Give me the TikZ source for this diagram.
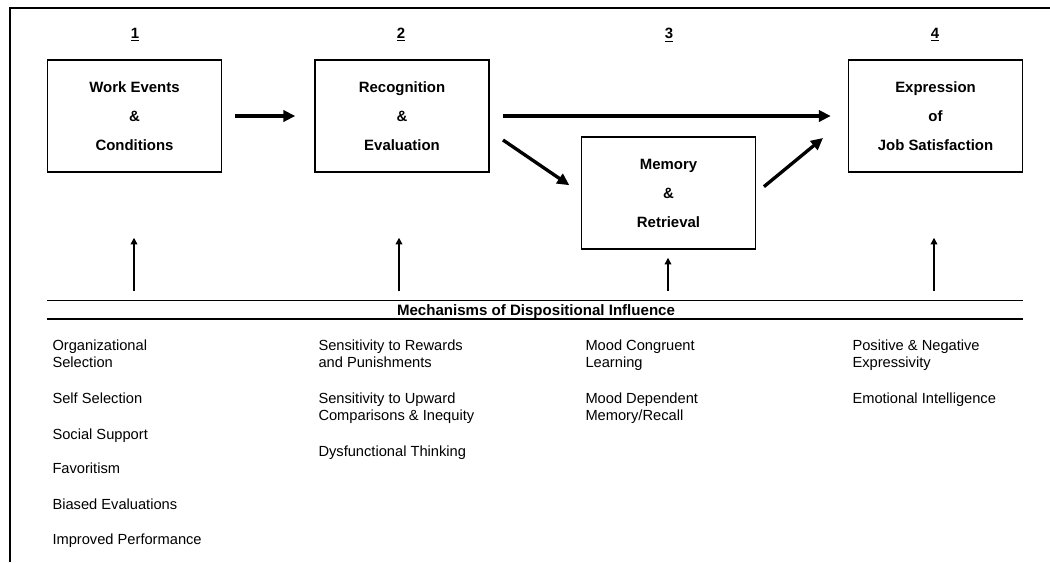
\documentclass[tikz,border=0pt]{standalone}
\usepackage{fontspec}
\setmainfont{Liberation Sans}
\usetikzlibrary{arrows.meta}

\tikzset{every picture/.style={line width=0.75pt}}

\begin{document}
\begin{tikzpicture}[x=0.75pt,y=0.75pt,yscale=-1,xscale=1,
  stage/.style={draw, line width=1.1pt, minimum width=130.5pt, minimum height=84pt, inner sep=0pt, align=center, font=\bfseries\fontsize{11.2}{21.75}\selectfont},
  stagenum/.style={font=\bfseries\fontsize{11.2}{13}\selectfont},
  flow/.style={line width=2.5pt, -{Triangle[length=9pt, width=8.5pt]}},
  feed/.style={line width=1pt, -{Triangle[length=5pt, width=5pt]}},
  mech/.style={anchor=base west, inner sep=0pt, align=left, font=\fontsize{11}{12.75}\selectfont}]
\useasboundingbox (0,0) rectangle (1050,562);

%Frame
\draw [line width=1.5pt]  (10,562) -- (10,8) -- (1050,8) ;

%Shape: Rectangle
\node (work) [stage] at (134.5,116) {Work Events\\\&\\Conditions};
%Shape: Rectangle
\node (recog) [stage] at (402,116) {Recognition\\\&\\Evaluation};
%Shape: Rectangle
\node (mem) [stage] at (668.5,193) {Memory\\\&\\Retrieval};
%Shape: Rectangle
\node (expr) [stage] at (935.5,116) {Expression\\of\\Job Satisfaction};

% Text Node
\node (n1) [stagenum] at (135,35) {\underline{1}};
\node (n2) [stagenum] at (401,35) {\underline{2}};
\node (n3) [stagenum] at (669,35) {\underline{3}};
\node (n4) [stagenum] at (935,35) {\underline{4}};

%Straight Lines
\draw [flow, shorten <=9.75pt, shorten >=14.25pt]  (work.east) -- (recog.west) ;
\draw [flow, shorten <=9.75pt, shorten >=12.75pt]  (recog.east) -- (expr.west) ;
\coordinate (r2m) at (503,140);
\draw [flow, shorten >=10.4pt]  (r2m) -- (mem.west) ;
\coordinate (m2e) at (823,138);
\draw [flow, shorten <=7.5pt]  (mem.east) -- (m2e) ;

%Straight Lines
\coordinate (f1) at (134,291);
\coordinate (f2) at (399,291);
\coordinate (f3) at (668,291);
\coordinate (f4) at (934,291);
\draw [feed, shorten >=48.75pt]  (f1) -- (f1 |- work.south) ;
\draw [feed, shorten >=48.75pt]  (f2) -- (f2 |- recog.south) ;
\draw [feed, shorten >=6pt]  (f3) -- (f3 |- mem.south) ;
\draw [feed, shorten >=48.75pt]  (f4) -- (f4 |- expr.south) ;

%Straight Lines
\draw  (work.west |- 0,300) -- (expr.east |- 0,300) ;
\draw [line width=1.8pt]  (work.west |- 0,319) -- (expr.east |- 0,319) ;
% Text Node
\node (mechs) [font=\bfseries\fontsize{11.3}{13}\selectfont] at (536,311.5) {Mechanisms of Dispositional Influence};

% Text Node
\node (c1a) [mech] at (52,367) {Organizational\\Selection};
\node (c1b) [mech] at (52,403) {Self Selection};
\node (c1c) [mech] at (52,439) {Social Support};
\node (c1d) [mech] at (52,473) {Favoritism};
\node (c1e) [mech] at (52,509) {Biased Evaluations};
\node (c1f) [mech] at (52,544) {Improved Performance};
% Text Node
\node (c2a) [mech] at (318,367) {Sensitivity to Rewards\\and Punishments};
\node (c2b) [mech] at (318,420) {Sensitivity to Upward\\Comparisons \& Inequity};
\node (c2c) [mech] at (318,456) {Dysfunctional Thinking};
% Text Node
\node (c3a) [mech] at (585,367) {Mood Congruent\\Learning};
\node (c3b) [mech] at (585,420) {Mood Dependent\\Memory/Recall};
% Text Node
\node (c4a) [mech] at (852,367) {Positive \& Negative\\Expressivity};
\node (c4b) [mech] at (852,403) {Emotional Intelligence};

\end{tikzpicture}
\end{document}
